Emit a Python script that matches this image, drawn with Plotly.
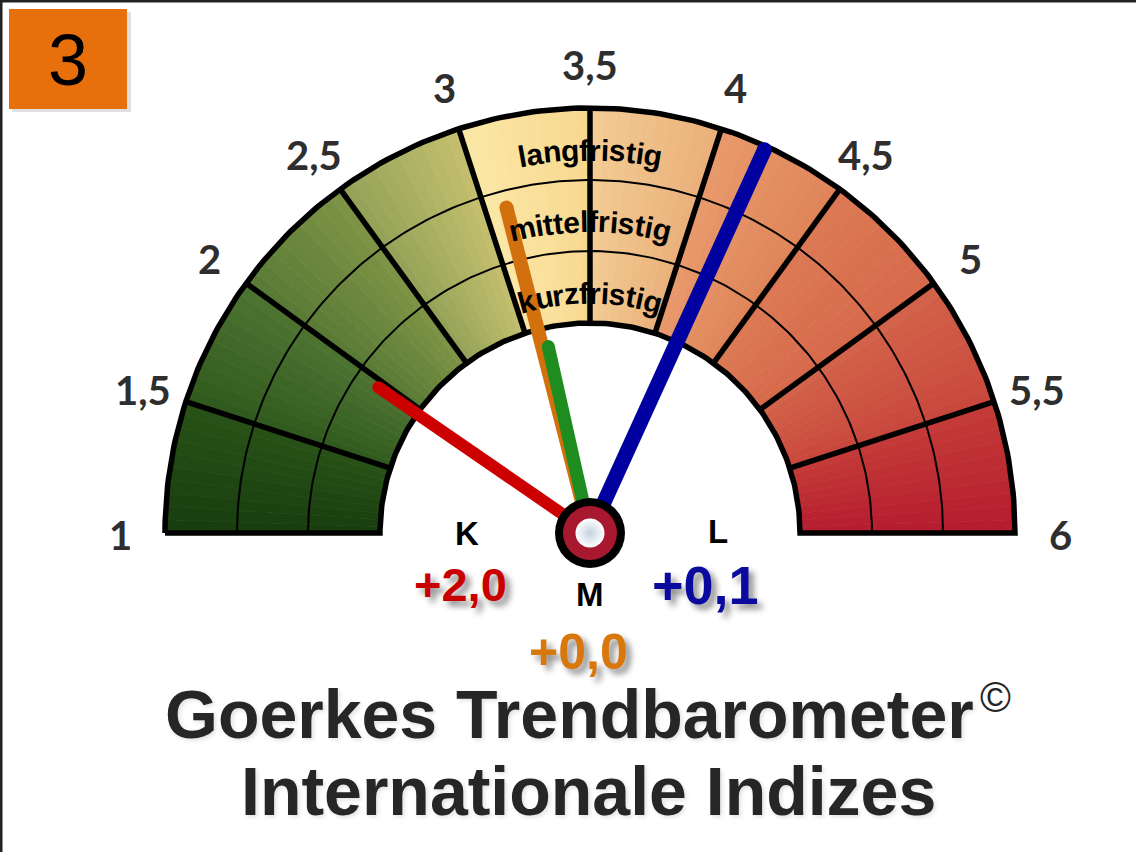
import math
import numpy as np
import plotly.graph_objects as go

# ---------------- data ----------------
scale_ticks = [1.0, 1.5, 2.0, 2.5, 3.0, 3.5, 4.0, 4.5, 5.0, 5.5, 6.0]
tick_labels = ["1", "1,5", "2", "2,5", "3", "3,5", "4", "4,5", "5", "5,5", "6"]
ring_names = ["kurzfristig", "mittelfristig", "langfristig"]
needle_names = ["kurzfristig", "mittelfristig (Vorwoche)", "mittelfristig", "langfristig"]
needle_values = [1.96, 3.10, 3.15, 4.18]
change_keys = ["K", "M", "L"]
change_values = ["+2,0", "+0,0", "+0,1"]
panel_number = "3"
title_lines = ["Goerkes Trendbarometer", "Internationale Indizes"]

# ---------------- style ----------------
W, H = 1136, 852
CX, CY = 590, H - 533
RADII = [210, 282, 353, 425]
LABEL_R = 470
sector_colors = [
    ("#183d0d", "#285218"), ("#2f5a1d", "#4f7432"), ("#587a35", "#7f9446"),
    ("#93a257", "#c4bf6e"), ("#fbe8a6", "#f7d78e"), ("#f3cc94", "#eab07a"),
    ("#e89a6c", "#df8458"), ("#dc7a55", "#d6694a"), ("#d2634a", "#c9473c"),
    ("#c43c38", "#b51b2e"),
]
needle_colors = ["#cc0000", "#d2700e", "#1f8c1f", "#0000a0"]
needle_lengths = [257, 336, 191, 421]
needle_widths = [12, 14, 13, 15]
change_colors = ["#c80000", "#d8780c", "#0a0a9e"]


def ang(v):
    return math.pi * (1 - (v - 1) / 5.0)


def hex2rgb(h):
    h = h.lstrip("#")
    return [int(h[i:i + 2], 16) for i in (0, 2, 4)]


def mix(c0, c1, t):
    a, b = hex2rgb(c0), hex2rgb(c1)
    return "rgb(%d,%d,%d)" % tuple(round(a[i] + (b[i] - a[i]) * t) for i in range(3))


fig = go.Figure()

# sectors with angular gradient
NSUB = 10
for i in range(len(scale_ticks) - 1):
    v0, v1 = scale_ticks[i], scale_ticks[i + 1]
    c0, c1 = sector_colors[i]
    for k in range(NSUB):
        a0 = ang(v0 + (v1 - v0) * k / NSUB)
        a1 = ang(v0 + (v1 - v0) * (k + 1) / NSUB)
        th = np.linspace(a0, a1, 6)
        xs = list(CX + RADII[-1] * np.cos(th)) + list(CX + RADII[0] * np.cos(th[::-1]))
        ys = list(CY + RADII[-1] * np.sin(th)) + list(CY + RADII[0] * np.sin(th[::-1]))
        col = mix(c0, c1, (k + 0.5) / NSUB)
        fig.add_trace(go.Scatter(x=xs, y=ys, fill="toself", fillcolor=col, mode="lines",
                                 line=dict(color=col, width=1), hoverinfo="skip",
                                 showlegend=False))

# thin ring lines
xs, ys = [], []
for r in RADII[1:-1]:
    th = np.linspace(ang(scale_ticks[0]), ang(scale_ticks[-1]), 200)
    xs += list(CX + r * np.cos(th)) + [None]
    ys += list(CY + r * np.sin(th)) + [None]
fig.add_trace(go.Scatter(x=xs, y=ys, mode="lines", line=dict(color="black", width=2),
                         hoverinfo="skip", showlegend=False))

# sector dividers
xs, ys = [], []
for v in scale_ticks[1:-1]:
    a = ang(v)
    xs += [CX + RADII[0] * math.cos(a), CX + RADII[-1] * math.cos(a), None]
    ys += [CY + RADII[0] * math.sin(a), CY + RADII[-1] * math.sin(a), None]
fig.add_trace(go.Scatter(x=xs, y=ys, mode="lines", line=dict(color="black", width=5.5),
                         hoverinfo="skip", showlegend=False))

# outline
th_in = np.linspace(ang(scale_ticks[0]), ang(scale_ticks[-1]), 200)
th_out = th_in[::-1]
xs = ([CX - RADII[-1]] + list(CX + RADII[0] * np.cos(th_in)) + [CX + RADII[-1]]
      + list(CX + RADII[-1] * np.cos(th_out)))
ys = ([CY] + list(CY + RADII[0] * np.sin(th_in)) + [CY]
      + list(CY + RADII[-1] * np.sin(th_out)))
fig.add_trace(go.Scatter(x=xs, y=ys, mode="lines", line=dict(color="black", width=5.5),
                         hoverinfo="skip", showlegend=False))

# needles
for i in range(len(needle_values)):
    a = ang(needle_values[i])
    L = needle_lengths[i]
    tx, ty = CX + L * math.cos(a), CY + L * math.sin(a)
    fig.add_trace(go.Scatter(x=[CX, tx], y=[CY, ty], mode="lines",
                             line=dict(color=needle_colors[i], width=needle_widths[i]),
                             name=needle_names[i], showlegend=False))
    fig.add_trace(go.Scatter(x=[tx], y=[ty], mode="markers",
                             marker=dict(color=needle_colors[i], size=needle_widths[i], line=dict(width=0)),
                             hoverinfo="skip", showlegend=False))

# hub
fig.add_trace(go.Scatter(x=[CX], y=[CY], mode="markers",
                         marker=dict(size=70, color="black", line=dict(width=0)),
                         hoverinfo="skip", showlegend=False))
fig.add_trace(go.Scatter(x=[CX], y=[CY], mode="markers",
                         marker=dict(size=54, color="#a8182e", line=dict(width=0)),
                         hoverinfo="skip", showlegend=False))
fig.add_trace(go.Scatter(x=[CX], y=[CY], mode="markers",
                         marker=dict(size=29, color="#ffffff", line=dict(width=0),
                                     gradient=dict(type="radial", color="#c4d2e0")),
                         hoverinfo="skip", showlegend=False))

annotations = []
# tick labels
for v, lab in zip(scale_ticks, tick_labels):
    a = ang(v)
    annotations.append(dict(x=CX + LABEL_R * math.cos(a), y=CY + LABEL_R * math.sin(a) - 2,
                            text=lab, showarrow=False, xanchor="center", yanchor="middle",
                            font=dict(family="Lato", size=40, color="#2e2e2e", weight="bold")))

# curved ring labels
cw = {"l": 278, "a": 556, "n": 611, "g": 611, "f": 333, "r": 389, "i": 278, "s": 556,
      "t": 333, "m": 889, "e": 556, "k": 556, "u": 611, "z": 500}
FS = 30
for ri, name in enumerate(ring_names):
    r = (RADII[ri] + RADII[ri + 1]) / 2.0 - 6
    widths = [cw.get(ch, 556) * FS / 1000.0 for ch in name]
    total = sum(widths)
    s = -total / 2.0
    for ch, w in zip(name, widths):
        mid = s + w / 2.0
        a = math.pi / 2 - mid / r
        annotations.append(dict(x=CX + r * math.cos(a), y=CY + r * math.sin(a), text=ch,
                                showarrow=False, xanchor="center", yanchor="middle",
                                textangle=90 - math.degrees(a),
                                font=dict(family="Liberation Sans", size=FS, color="black",
                                          weight="bold")))
        s += w

# K / M / L and changes
key_pos = {"K": (467, 533), "M": (590, 594), "L": (718, 531)}
val_pos = {"K": (460, 584), "M": (578, 652), "L": (705, 585)}
val_size = {"K": 47, "M": 50, "L": 54}
for key, val, col in zip(change_keys, change_values, change_colors):
    kx, ky = key_pos[key]
    annotations.append(dict(x=kx, y=H - ky, text=key, showarrow=False,
                            font=dict(family="Liberation Sans", size=33, color="black", weight="bold")))
    vx, vy = val_pos[key]
    annotations.append(dict(x=vx, y=H - vy, text=val, showarrow=False,
                            font=dict(family="Liberation Sans", size=val_size[key], color=col,
                                      weight="bold",
                                      shadow="5px 5px 6px rgba(0,0,0,0.45)")))

# titles
annotations.append(dict(x=569, y=H - 714, text=title_lines[0], showarrow=False,
                        font=dict(family="Liberation Sans", size=68, color="#262626", weight="bold",
                                  shadow="2px 2px 4px rgba(0,0,0,0.12)")))
annotations.append(dict(x=995, y=H - 697, text="©", showarrow=False,
                        font=dict(family="Liberation Sans", size=42, color="#262626")))
annotations.append(dict(x=588, y=H - 791, text=title_lines[1], showarrow=False,
                        font=dict(family="Liberation Sans", size=68, color="#262626", weight="bold",
                                  shadow="2px 2px 4px rgba(0,0,0,0.12)")))
# panel number
annotations.append(dict(x=68, y=H - 60, text=panel_number, showarrow=False,
                        font=dict(family="Liberation Sans", size=72, color="black")))

shapes = [
    dict(type="rect", xref="x", yref="y", x0=12, x1=131, y0=H - 112, y1=H - 12,
         fillcolor="rgba(0,0,0,0.12)", line=dict(width=0), layer="below"),
    dict(type="rect", xref="x", yref="y", x0=9, x1=127, y0=H - 109, y1=H - 9,
         fillcolor="#e8700c", line=dict(width=0), layer="below"),
    dict(type="line", xref="paper", yref="paper", x0=0, x1=1, y0=1, y1=1,
         line=dict(color="#222222", width=5)),
    dict(type="line", xref="paper", yref="paper", x0=0, x1=0, y0=0, y1=1,
         line=dict(color="#222222", width=5)),
]

fig.update_layout(
    width=W, height=H, margin=dict(l=0, r=0, t=0, b=0),
    paper_bgcolor="white", plot_bgcolor="white",
    xaxis=dict(range=[0, W], visible=False, fixedrange=True),
    yaxis=dict(range=[0, H], visible=False, fixedrange=True),
    annotations=annotations, shapes=shapes, showlegend=False,
)

fig.write_html("out.html", config={"displayModeBar": False},
               post_script="document.body.style.margin='0';")
